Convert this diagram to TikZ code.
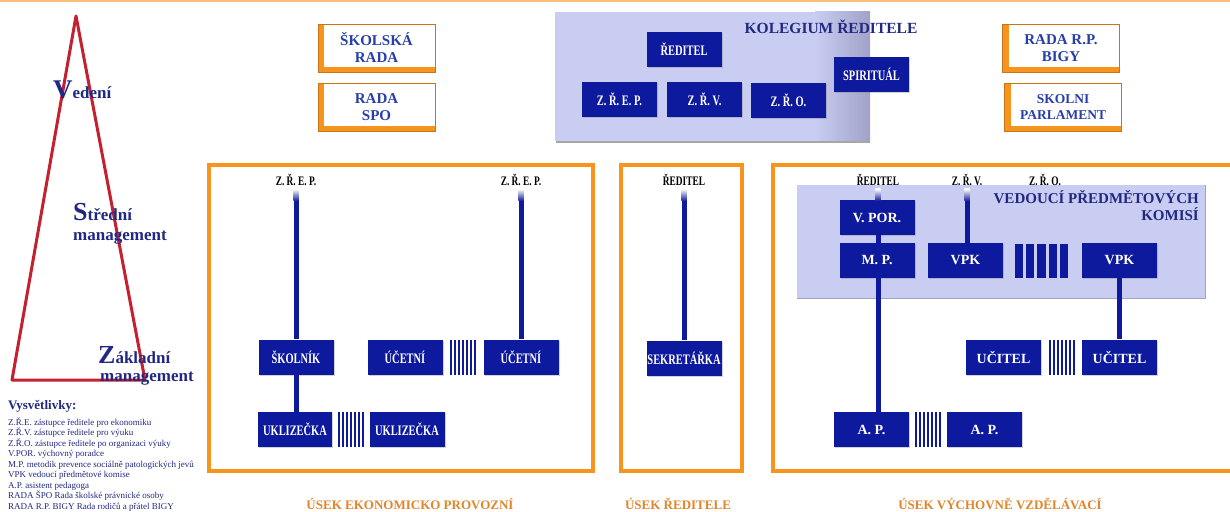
\documentclass[tikz,border=0pt]{standalone}
\usepackage{fontspec}
\setmainfont{Liberation Serif}
\newfontfamily\narrowfont[FakeStretch=0.72]{Liberation Serif}
\usetikzlibrary{shadows,positioning}

\definecolor{unitblue}{RGB}{14,26,158}
\definecolor{navytext}{RGB}{32,40,130}
\definecolor{radablue}{RGB}{40,62,168}
\definecolor{lavender}{RGB}{202,205,242}
\definecolor{lavenderdark}{RGB}{160,162,200}
\definecolor{frameorange}{RGB}{247,148,30}
\definecolor{usekorange}{RGB}{226,132,42}
\definecolor{pyramidred}{RGB}{196,32,48}

\tikzset{
  unit/.style={rectangle, fill=unitblue, text=white, minimum width=75pt, minimum height=35pt,
    inner sep=0pt, font=\narrowfont\bfseries\fontsize{14.5}{14.5}\selectfont,
    drop shadow={shadow xshift=1pt, shadow yshift=-1pt, opacity=.35}},
  unitwide/.style={unit, font=\bfseries\fontsize{14}{14}\selectfont},
  rada/.style={rectangle, fill=white, draw=frameorange!80!black, line width=0.6pt,
    minimum width=117pt, minimum height=48pt, align=center, text=radablue,
    font=\bfseries\fontsize{15}{17}\selectfont,
    path picture={
      \fill[frameorange] (path picture bounding box.north west) rectangle ([xshift=6pt]path picture bounding box.south west);
      \fill[frameorange] ([yshift=5pt]path picture bounding box.south west) rectangle (path picture bounding box.south east);
    }},
  boss/.style={font=\narrowfont\bfseries\fontsize{13}{13}\selectfont, inner sep=3pt},
  link/.style={draw=unitblue, line width=5pt},
  usek/.style={draw=frameorange, line width=4pt},
  useklabel/.style={text=usekorange, font=\bfseries\fontsize{13}{13}\selectfont},
  level/.style={text=navytext, anchor=base west, inner sep=0pt, font=\bfseries\fontsize{17}{17}\selectfont},
  legendline/.style={text=navytext, anchor=base west, inner sep=0pt, font=\fontsize{9}{9}\selectfont},
}

% svisle proužky mezi stejnými pozicemi
\newcommand{\gapbars}[5]{%
  \foreach \i in {0,...,#3} \fill[unitblue] (#1+\i*#4,#2) rectangle ++(#5,35);}

\begin{document}
\begin{tikzpicture}[x=1pt,y=-1pt]
    \useasboundingbox (0,0) rectangle (1230,511);
    \draw[frameorange!60, line width=2pt] (0,1) -- (1230,1);

    % Pyramida řízení
    \draw[pyramidred, line width=3pt, line join=round] (76,16) -- (12,380) -- (145,380) -- cycle;
    \node[level] (vedeni) at (53,98) {{\fontsize{27}{27}\selectfont V}edení};
    \node[level] (stredni) at (73,220) {{\fontsize{26}{26}\selectfont S}třední};
    \node[level] (stredni2) at (73,240) {management};
    \node[level] (zakladni) at (98,363) {{\fontsize{26}{26}\selectfont Z}ákladní};
    \node[level] (zakladni2) at (100,381) {management};

    % Vysvětlivky
    \node[legendline, font=\bfseries\fontsize{13}{13}\selectfont] (legend) at (8,409) {Vysvětlivky:};
    \foreach \txt [count=\i] in {Z.Ř.E. zástupce ředitele pro ekonomiku,
        Z.Ř.V. zástupce ředitele pro výuku,
        Z.Ř.O. zástupce ředitele po organizaci výuky,
        V.POR. výchovný poradce,
        M.P. metodik prevence sociálně patologických jevů,
        VPK vedoucí předmětové komise,
        A.P. asistent pedagoga,
        RADA ŠPO Rada školské právnické osoby,
        RADA R.P. BIGY Rada rodičů a přátel BIGY}
      \node[legendline] (leg\i) at (8,414.5+10.5*\i) {\txt};

    % Rady
    \node[rada] (skolskarada) at (376.5,48) {ŠKOLSKÁ\\RADA};
    \node[rada] (radaspo) at (376.5,107) {RADA\\SPO};
    \node[rada] (radarp) at (1061,48) {RADA R.P.\\BIGY};
    \node[rada, font=\bfseries\fontsize{13.5}{16}\selectfont] (parlament) at (1063,107) {SKOLNI\\PARLAMENT};

    % Kolegium ředitele
    \fill[lavender] (555,12) rectangle (870,141);
    \shade[left color=lavender, right color=lavenderdark] (815,12) rectangle (870,141);
    \draw[gray!70, line width=1.2pt] (556,142) -- (870,142);
    \node[text=navytext, font=\bfseries\fontsize{15.5}{15.5}\selectfont] (kolegium) at (831,27) {KOLEGIUM ŘEDITELE};
    \node[unit] (reditel) at (684,49.5) {ŘEDITEL};
    \node[unit] (zrep) at (619.5,99) {Z. Ř. E. P.};
    \node[unit] (zrv) at (704.5,99.5) {Z. Ř. V.};
    \node[unit] (zro) at (788.5,100) {Z. Ř. O.};
    \node[unit] (spiritual) at (871.5,74.5) {SPIRITUÁL};

    % Úseky
    \draw[usek] (209,165) rectangle (593,471);
    \draw[usek] (621,165) rectangle (742,471);
    \draw[usek] (773,165) rectangle (1240,471);
    \node[useklabel] (usek1) at (410,504) {ÚSEK EKONOMICKO PROVOZNÍ};
    \node[useklabel] (usek2) at (678,504) {ÚSEK ŘEDITELE};
    \node[useklabel] (usek3) at (1000,504) {ÚSEK VÝCHOVNĚ VZDĚLÁVACÍ};

    % Úsek ekonomicko provozní
    \node[boss] (zrep1) at (296,180) {Z. Ř. E. P.};
    \node[boss] (zrep2) at (521,180) {Z. Ř. E. P.};
    \node[unit] (skolnik) at (296,357) {ŠKOLNÍK};
    \node[unit] (ucetni1) at (405,357) {ÚČETNÍ};
    \node[unit] (ucetni2) at (521,357) {ÚČETNÍ};
    \node[unit, minimum width=74pt] (uklid1) at (295,429.5) {UKLIZEČKA};
    \node[unit] (uklid2) at (407,429.5) {UKLIZEČKA};
    \gapbars{450}{339.5}{6}{4}{2.4}
    \gapbars{338}{412}{6}{4}{2.4}

    % Úsek ředitele
    \node[boss] (reditel1) at (684,180) {ŘEDITEL};
    \node[unit] (sekretarka) at (684,358) {SEKRETÁŘKA};

    % Úsek výchovně vzdělávací
    \fill[lavender] (797,185) rectangle (1205,298);
    \draw[lavenderdark, line width=0.6pt] (797,298) -- (1205,298) -- (1205,185);
    \node[text=navytext, align=right, anchor=north east, inner sep=0pt,
      font=\bfseries\fontsize{15}{17}\selectfont] (vpktitle) at (1199,190) {VEDOUCÍ PŘEDMĚTOVÝCH\\KOMISÍ};
    \node[boss] (reditel2) at (878,180) {ŘEDITEL};
    \node[boss] (zrv2) at (967,180) {Z. Ř. V.};
    \node[boss] (zro2) at (1045,180) {Z. Ř. O.};
    \node[unitwide] (vpor) at (877,217.5) {V. POR.};
    \node[unitwide] (mp) at (877,260.5) {M. P.};
    \node[unitwide] (vpk1) at (965.5,260.5) {VPK};
    \node[unitwide] (vpk2) at (1119.5,260.5) {VPK};
    \foreach \i in {0,...,4} \fill[unitblue] (1015+\i*11.2,244) rectangle ++(8.2,34);
    \node[unitwide] (ucitel1) at (1003.5,357) {UČITEL};
    \node[unitwide] (ucitel2) at (1119.5,357) {UČITEL};
    \gapbars{1049}{339.5}{6}{4}{2.4}
    \node[unitwide] (ap1) at (871.5,429.5) {A. P.};
    \node[unitwide] (ap2) at (984.5,429.5) {A. P.};
    \gapbars{915}{412}{6}{4}{2.4}

    % Spojnice
    \draw[link] (zrep1.south) -- (skolnik.north);
    \draw[link] (skolnik.south) -- (uklid1.north -| skolnik.south);
    \draw[link] (zrep2.south) -- (ucetni2.north);
    \draw[link] (reditel1.south) -- (sekretarka.north);
    \draw[link] (reditel2.south) -- (vpor.north -| reditel2.south);
    \draw[link] (vpor.south -| reditel2.south) -- (mp.north -| reditel2.south);
    \draw[link] (mp.south -| reditel2.south) -- (ap1.north -| reditel2.south);
    \draw[link] (zrv2.south) -- (vpk1.north -| zrv2.south);
    \draw[link] (vpk2.south) -- (ucitel2.north);
    \foreach \n in {zrep1,zrep2,reditel1,reditel2,zrv2}
      \shade[top color=white, bottom color=unitblue] ([xshift=-2.6pt]\n.south) rectangle ++(5.2,12);
\end{tikzpicture}
\end{document}
